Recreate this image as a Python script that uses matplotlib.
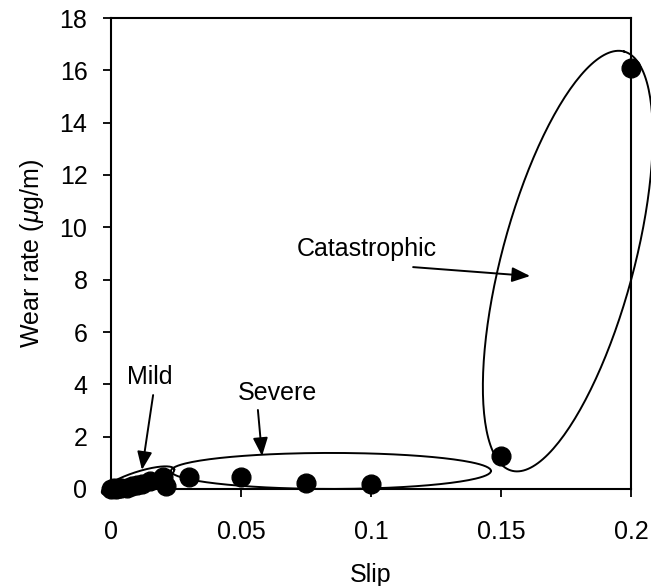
import numpy as np
import matplotlib.pyplot as plt

plt.rcParams['font.family'] = ['Liberation Sans', 'DejaVu Sans']
plt.rcParams['mathtext.fontset'] = 'custom'
plt.rcParams['mathtext.it'] = 'Liberation Sans:italic'

# measured points (slip, wear rate)
slip = [0.0, 0.001, 0.002, 0.003, 0.004, 0.006, 0.008, 0.010, 0.012, 0.015,
        0.020, 0.021, 0.030, 0.050, 0.075, 0.100, 0.150, 0.200]
wear = [0.0, 0.02, 0.0, 0.05, 0.02, 0.05, 0.1, 0.15, 0.2, 0.3,
        0.45, 0.1, 0.45, 0.45, 0.22, 0.2, 1.25, 16.1]

xticks = [0, 0.05, 0.1, 0.15, 0.2]
xticklabels = ['0', '0.05', '0.1', '0.15', '0.2']
yticks = list(range(0, 19, 2))

fs = 18

fig = plt.figure(figsize=(6.51, 5.86), dpi=100)
ax = fig.add_axes([111/651, 1 - 489/586, 520/651, 471/586])
ax.set_xlim(0, 0.2)
ax.set_ylim(0, 18)

ax.plot(slip, wear, 'o', color='black', markersize=13.5, clip_on=False, zorder=3)

ax.set_xticks(xticks)
ax.set_xticklabels(xticklabels)
ax.set_yticks(yticks)
ax.tick_params(axis='both', labelsize=fs, direction='out', length=6, width=1.3)
ax.tick_params(axis='y', pad=11)
ax.tick_params(axis='x', pad=16)
for s in ax.spines.values():
    s.set_linewidth(1.5)

ax.set_xlabel('Slip', fontsize=fs, labelpad=14)
ax.set_ylabel(r'Wear rate ($\mu$g/m)', fontsize=fs, labelpad=10)


# regime outlines: centre in data units, semi-axes in pixels, tilt in degrees
def outline(cx, cy, a, b, ang):
    t = np.linspace(0, 2 * np.pi, 200)
    px, py = ax.transData.transform((cx, cy))
    r = np.radians(ang)
    ex = px + a * np.cos(t) * np.cos(r) - b * np.sin(t) * np.sin(r)
    ey = py + a * np.cos(t) * np.sin(r) + b * np.sin(t) * np.cos(r)
    d = ax.transData.inverted().transform(np.column_stack([ex, ey]))
    ax.plot(d[:, 0], d[:, 1], color='black', lw=1.4, clip_on=False, zorder=2)


outline(0.1757, 8.71, 217, 66, 75)
outline(0.0846, 0.69, 160, 18, 0)
outline(0.0104, 0.31, 38, 9, 18)

arrow = dict(arrowstyle='-|>,head_length=1.1,head_width=0.45', color='black', lw=1.4,
             shrinkA=0, shrinkB=0)
ax.text(0.0985, 9.17, 'Catastrophic', fontsize=fs, ha='center', va='center')
ax.annotate('', xy=(0.1612, 8.14), xytext=(0.1162, 8.48), arrowprops=arrow)
ax.text(0.015, 4.28, 'Mild', fontsize=fs, ha='center', va='center')
ax.annotate('', xy=(0.0119, 0.73), xytext=(0.0162, 3.59), arrowprops=arrow)
ax.text(0.0642, 3.67, 'Severe', fontsize=fs, ha='center', va='center')
ax.annotate('', xy=(0.0581, 1.26), xytext=(0.0565, 3.02), arrowprops=arrow)

fig.savefig('out.png', dpi=100)
